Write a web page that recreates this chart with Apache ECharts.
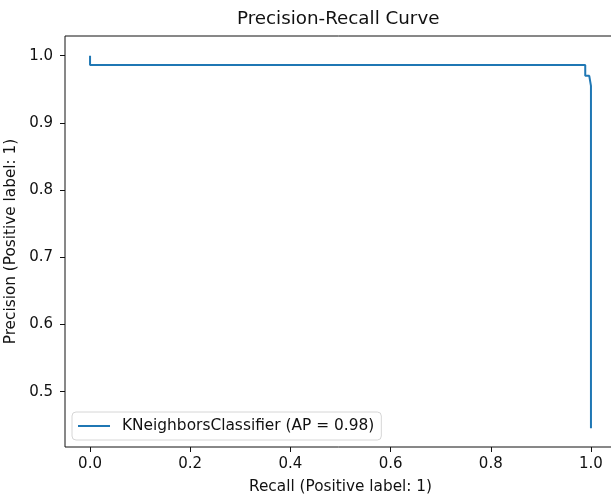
<!DOCTYPE html>
<html>
<head>
<meta charset="utf-8">
<script src="https://cdn.jsdelivr.net/npm/echarts@6/dist/echarts.min.js"></script>
<style>html,body{margin:0;padding:0;background:#fff}#c{width:611px;height:495px}</style>
</head>
<body>
<div id="c"></div>
<script>
// Data (sklearn order: recall descending), drawn with steps-post
var recall = [1.0, 1.0, 0.9966, 0.9886, 0.0];
var precision = [0.4455, 0.955, 0.970, 0.986, 1.0];
var xTicks = [0.0, 0.2, 0.4, 0.6, 0.8, 1.0];
var yTicks = [0.5, 0.6, 0.7, 0.8, 0.9, 1.0];
var seriesName = 'KNeighborsClassifier (AP = 0.98)';

var font = 'DejaVu Sans';
var chart = echarts.init(document.getElementById('c'), null, {renderer: 'canvas'});
var pts = recall.map(function (r, i) { return [r, precision[i]]; });

chart.setOption({
  animation: false,
  backgroundColor: '#fff',
  textStyle: {fontFamily: font},
  title: {
    text: 'Precision-Recall Curve',
    left: 237, top: 10, padding: 0,
    textStyle: {fontFamily: font, fontSize: 18.3, fontWeight: 'normal', color: '#111'}
  },
  grid: {
    left: 65, right: -5, top: 36, bottom: 48,
    containLabel: false, outerBoundsMode: 'none',
    show: true, borderColor: '#111', borderWidth: 1, backgroundColor: 'transparent'
  },
  legend: {
    left: 72, top: 412,
    padding: [6, 7, 6, 6],
    borderColor: '#d6d6d6', borderWidth: 1, borderRadius: 4,
    backgroundColor: 'rgba(255,255,255,0.8)',
    icon: 'rect',
    itemWidth: 32, itemHeight: 2,
    textStyle: {fontFamily: font, fontSize: 15.4, color: '#111', padding: [0, 0, 0, 7], lineHeight: 16},
    data: [seriesName]
  },
  xAxis: {
    type: 'value', min: -0.05, max: 1.05,
    name: 'Recall (Positive label: 1)', nameLocation: 'middle', nameGap: 33,
    nameTextStyle: {fontFamily: font, fontSize: 15.3, color: '#111'},
    axisLine: {show: false, onZero: false},
    splitLine: {show: false},
    axisTick: {show: true, customValues: xTicks, length: 5, inside: false, lineStyle: {color: '#111', width: 1}},
    axisLabel: {customValues: xTicks, margin: 10, fontFamily: font, fontSize: 15, color: '#111',
      formatter: function (v) { return v.toFixed(1); }}
  },
  yAxis: {
    type: 'value', min: 0.4177, max: 1.0293,
    name: 'Precision (Positive label: 1)', nameLocation: 'middle', nameGap: 43,
    nameTextStyle: {fontFamily: font, fontSize: 15.3, color: '#111'},
    axisLine: {show: false, onZero: false},
    splitLine: {show: false},
    axisTick: {show: true, customValues: yTicks, length: 5, inside: false, lineStyle: {color: '#111', width: 1}},
    axisLabel: {customValues: yTicks, margin: 12, fontFamily: font, fontSize: 15, color: '#111',
      formatter: function (v) { return v.toFixed(1); }}
  },
  series: [{
    name: seriesName,
    type: 'line',
    step: 'end',
    symbol: 'none',
    data: pts,
    lineStyle: {color: '#1f77b4', width: 2},
    itemStyle: {color: '#1f77b4'}
  }]
});
</script>
</body>
</html>
